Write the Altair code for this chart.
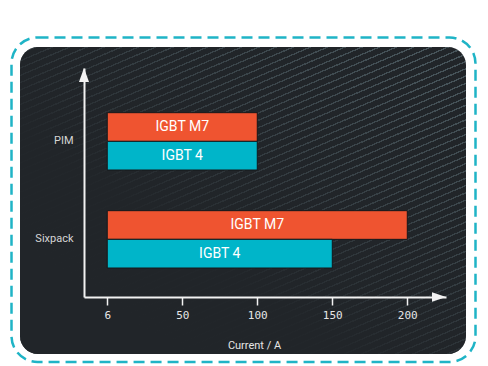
import altair as alt
import pandas as pd

# ---- data ----
groups = ["PIM", "PIM", "Sixpack", "Sixpack"]
series = ["IGBT M7", "IGBT 4", "IGBT M7", "IGBT 4"]
values = [100, 100, 200, 150]
series_order = ["IGBT M7", "IGBT 4"]
group_order = ["PIM", "Sixpack"]
series_colors = ["#ef5430", "#00b5c9"]
tick_values = [0, 50, 100, 150, 200]
tick_labels = ["6", "50", "100", "150", "200"]
x_title = "Current / A"

df = pd.DataFrame({"group": groups, "series": series, "value": values})

W, H = 362, 229
xdom = [-15.5, 225.8]

label_map = "{" + ",".join(f"'{v}':'{l}'" for v, l in zip(tick_values, tick_labels)) + "}"
label_expr = f"{label_map}[''+datum.value]"

one = alt.Data(values=[{}])

AX = "#f2f2f2"
BASE = "#212529"
STRIPE = "#4a585e"

# decorative diagonal hatch of the dark panel (background texture, not data)
N_STRIPES = 68
stops = []
for i in range(N_STRIPES):
    a = i / N_STRIPES
    b = (i + 0.8) / N_STRIPES
    c = (i + 1) / N_STRIPES
    stops += [alt.GradientStop(offset=a, color=BASE),
              alt.GradientStop(offset=b, color=BASE),
              alt.GradientStop(offset=b, color=STRIPE),
              alt.GradientStop(offset=c, color=STRIPE)]

PX = dict(x=alt.value(-64), x2=alt.value(382), y=alt.value(-21), y2=alt.value(286))

border = alt.Chart(one).mark_rect(
    fill=None, fillOpacity=0, stroke="#1fb4c6", strokeWidth=2.5,
    strokeDash=[11, 6], cornerRadius=26
).encode(x=alt.value(-72.5), x2=alt.value(391.5), y=alt.value(-30.5), y2=alt.value(294))

panel = alt.Chart(one).mark_rect(
    cornerRadius=18,
    fill=alt.Gradient(gradient="linear", x1=0, y1=0, x2=0.7224, y2=1.1714, stops=stops),
).encode(**PX)

fade = alt.Chart(one).mark_rect(
    cornerRadius=18,
    fill=alt.Gradient(
        gradient="linear", x1=0.95, y1=0.1, x2=0.2, y2=0.85,
        stops=[alt.GradientStop(offset=0, color="rgba(33,37,41,0.1)"),
               alt.GradientStop(offset=0.35, color="rgba(33,37,41,0.45)"),
               alt.GradientStop(offset=0.75, color="rgba(33,37,41,0.97)"),
               alt.GradientStop(offset=1, color="rgba(33,37,41,1)")],
    ),
).encode(**PX)

y_enc = alt.Y(
    "group:N", sort=group_order,
    scale=alt.Scale(paddingInner=0.415, paddingOuter=0.376, align=0.6065),
    axis=alt.Axis(title=None, ticks=False, labelPadding=11, labelFont="Roboto",
                  labelFontSize=11, labelColor="#d6d6d6", domainColor=AX,
                  domainWidth=2, grid=False, zindex=1),
)
yoff = alt.YOffset("series:N", sort=series_order,
                   scale=alt.Scale(paddingInner=0, paddingOuter=0))
x_axis = alt.Axis(values=tick_values, labelExpr=label_expr, grid=False,
                  domainColor=AX, domainWidth=2, tickColor=AX, tickSize=8,
                  tickWidth=1.5, labelFont="DejaVu Sans Mono", labelFontSize=11,
                  labelColor="#e6e6e6", labelPadding=4, title=x_title,
                  titleFont="Roboto", titleFontSize=11, titleFontWeight="normal",
                  titleColor="#e6e6e6", titleX=170, titleY=42, titleAlign="center",
                  zindex=1)

bars = alt.Chart(df).mark_bar(stroke="#15181b", strokeWidth=1).encode(
    x=alt.X("value:Q", scale=alt.Scale(domain=xdom, nice=False, zero=False), axis=x_axis),
    x2=alt.datum(0),
    y=y_enc,
    yOffset=yoff,
    color=alt.Color("series:N", scale=alt.Scale(domain=series_order, range=series_colors), legend=None),
)

labels = alt.Chart(df).transform_calculate(mid="datum.value / 2").mark_text(
    font="Roboto", fontSize=14, color="white", align="center", baseline="middle"
).encode(
    x=alt.X("mid:Q"),
    y=alt.Y("group:N", sort=group_order),
    yOffset=alt.YOffset("series:N", sort=series_order),
    text="series:N",
)

arrow_up = alt.Chart(one).mark_point(
    shape="M0,-1L-0.72,1L0.72,1Z", filled=True, fill=AX, opacity=1, size=196, strokeWidth=0
).encode(x=alt.value(0), y=alt.value(7))

arrow_right = alt.Chart(one).mark_point(
    shape="M1,0L-1,-0.68L-1,0.68Z", filled=True, fill=AX, opacity=1, size=196, strokeWidth=0
).encode(x=alt.value(W - 7), y=alt.value(H))

chart = alt.layer(border, panel, fade, bars, labels, arrow_up, arrow_right).properties(
    width=W, height=H,
    autosize=alt.AutoSizeParams(type="none"),
    padding={"left": 76, "top": 60, "right": 34, "bottom": 67},
    background="white",
).configure_view(stroke=None)

chart.save("out.html", embed_options={"renderer": "svg", "actions": False})
